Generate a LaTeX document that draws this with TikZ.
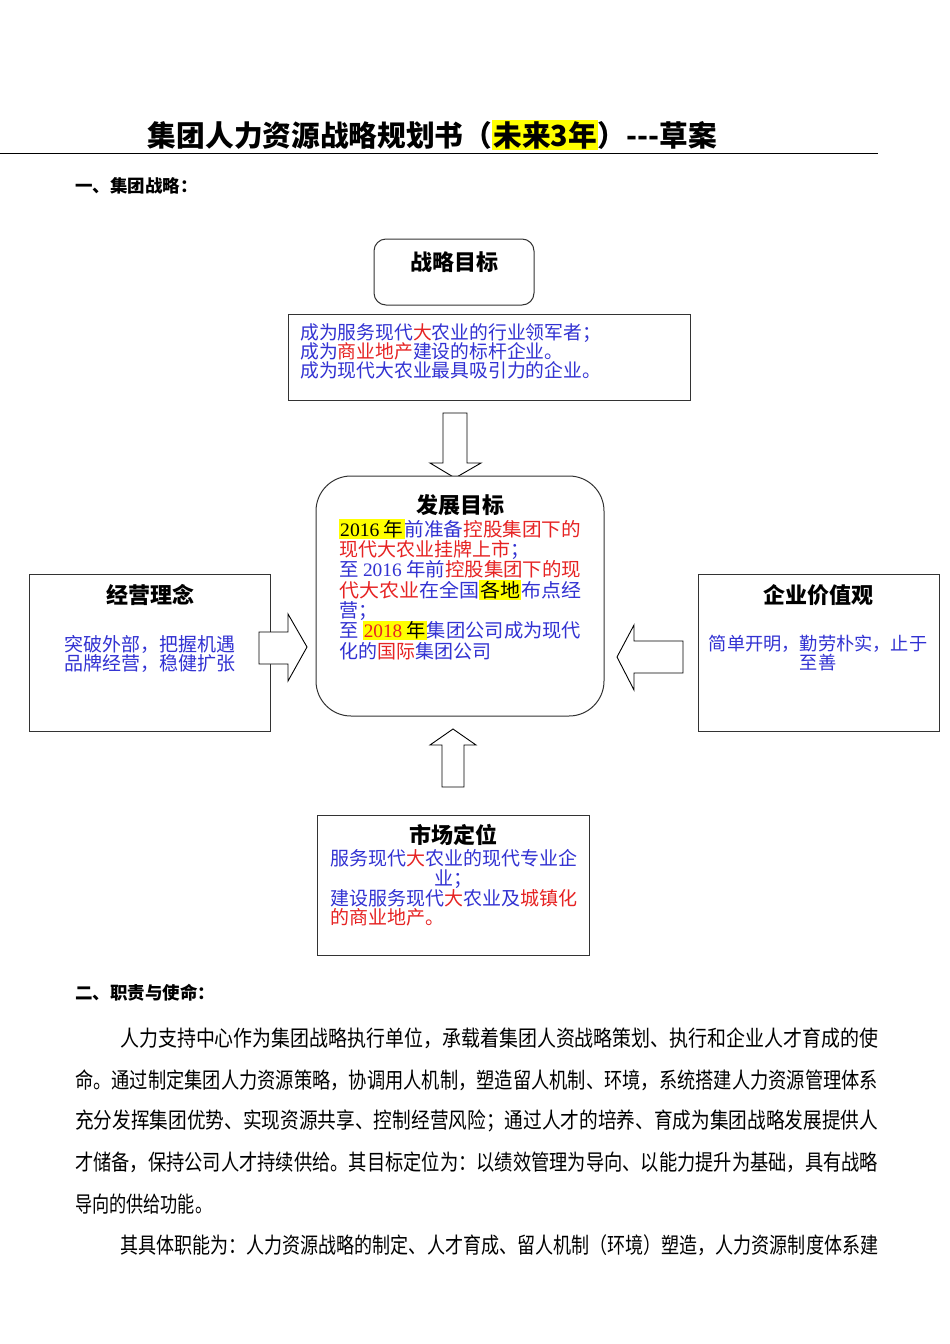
\documentclass[tikz,border=0pt]{standalone}
\usepackage{fontspec}
\usepackage{graphicx}
\setmainfont{Noto Sans CJK SC}
\newfontfamily\latin{Liberation Serif}
\definecolor{txtblue}{RGB}{50,50,210}
\definecolor{txtred}{RGB}{230,35,35}
\definecolor{hlyellow}{RGB}{255,255,0}
\def\hl#1{{\setlength{\fboxsep}{1pt}\colorbox{hlyellow}{#1}}}
\def\fitw#1#2{\resizebox{#1}{\height}{#2}}
\def\inblue#1{\textcolor{txtblue}{#1}}
\def\inred#1{\textcolor{txtred}{#1}}
\tikzset{
  boxline/.style={draw=black!80, line width=1pt},
  blockarrow/.style={draw=black, fill=white, line width=0.9pt, line join=miter},
  boxtitle/.style={inner sep=0pt, font=\fontsize{22}{22}\selectfont\bfseries},
  boxtext/.style={inner sep=0pt, align=left}
}

\begin{document}
\begin{tikzpicture}[x=1pt, y=-1pt]
			%%%%% PAGE %%%%%
			\useasboundingbox[fill=white] (0, 0) rectangle (950, 1344);
			
			\node[inner sep=0pt, font=\fontsize{29}{29}\selectfont\bfseries] (title) at (432.5, 135) {\fitw{569pt}{集团人力资源战略规划书（\hl{未来3年}）-{}-{}-草案}};
			\draw[line width=0.9pt] (0, 153) -- (878, 153);
			
			\node[inner sep=0pt, anchor=west, font=\fontsize{17.5}{17.5}\selectfont\bfseries] (sec1) at (75, 186) {一、集团战略：};
			
			%%%%% STRATEGY %%%%%
			\draw[boxline, rounded corners=12pt] (374, 239) rectangle (534, 305);
			\node[boxtitle] (goalhead) at (454, 262) {战略目标};
			
			\draw[boxline] (288, 314) rectangle (690, 400);
			\node[boxtext, anchor=north west, font=\fontsize{18.8}{19}\selectfont] (goaltext) at (300, 323.5) {%
				\inblue{成为服务现代}\inred{大}\inblue{农业的行业领军者；}\\
				\inblue{成为}\inred{商业地产}\inblue{建设的标杆企业。}\\
				\inblue{成为现代大农业最具吸引力的企业。}};
			
			\draw[blockarrow] (443, 413) -- (467, 413) -- (467, 463) -- (481, 463) -- (455, 478) -- (430, 463) -- (443, 463) -- cycle;
			
			\draw[boxline, fill=white, rounded corners=35pt] (316, 476) rectangle (604, 716);
			\node[boxtitle] (devhead) at (460, 505) {发展目标};
			\node[boxtext, anchor=north west, font=\fontsize{19}{20.3}\selectfont] (devtext) at (339, 519) {%
				\fitw{242pt}{\hl{{\latin 2016} 年}\inblue{前准备}\inred{控股集团下的}}\\
				\inred{现代大农业挂牌上市}\inblue{；}\\
				\fitw{242pt}{\inblue{至 {\latin 2016} 年前}\inred{控股集团下的现}}\\
				\fitw{242pt}{\inred{代大农业}\inblue{在全国}\hl{各地}\inblue{布点经}}\\
				\inblue{营；}\\
				\fitw{242pt}{\inblue{至 }\hl{\inred{\latin 2018} 年}\inblue{集团公司成为现代}}\\
				\inblue{化的}\inred{国际}\inblue{集团公司}};
			
			\draw[boxline] (29, 574) rectangle (270, 731);
			\node[boxtitle] (ideahead) at (150, 595) {经营理念};
			\node[boxtext, align=center, anchor=north, font=\fontsize{19}{19}\selectfont, text=txtblue] (ideatext) at (150, 635.5) {突破外部，把握机遇\\品牌经营，稳健扩张};
			\draw[blockarrow] (259, 632) -- (288, 632) -- (288, 614) -- (307, 647) -- (288, 681) -- (288, 664) -- (259, 664) -- cycle;
			
			\draw[boxline] (698, 574) rectangle (939, 731);
			\node[boxtitle] (valuehead) at (818, 595) {企业价值观};
			\node[boxtext, align=center, anchor=north, font=\fontsize{18.2}{19}\selectfont, text=txtblue] (valuetext) at (818, 634.8) {简单开明，勤劳朴实，止于\\至善};
			\draw[blockarrow] (683, 641) -- (634, 641) -- (634, 625) -- (617, 657) -- (634, 690) -- (634, 673) -- (683, 673) -- cycle;
			
			\draw[blockarrow] (442, 787) -- (442, 745) -- (430, 745) -- (453, 729) -- (476, 745) -- (464, 745) -- (464, 787) -- cycle;
			
			\draw[boxline] (317, 815) rectangle (589, 955);
			\node[boxtitle] (markethead) at (453, 835) {市场定位};
			\node[boxtext, anchor=north west, font=\fontsize{19}{19.7}\selectfont] (markettext) at (330, 849.4) {%
				\inblue{服务现代}\inred{大}\inblue{农业的现代专业企}\\
				\makebox[247pt][c]{\inblue{业；}}\\
				\inblue{建设服务现代}\inred{大}\inblue{农业及}\inred{城镇化}\\
				\inred{的商业地产。}};
			
			%%%%% DUTY %%%%%
			\node[inner sep=0pt, anchor=west, font=\fontsize{17.5}{17.5}\selectfont\bfseries] (sec2) at (75, 993) {二、职责与使命：};
			
			\node[inner sep=0pt, anchor=west, font=\fontsize{22}{22}\selectfont] (body1) at (120, 1038) {\fitw{758pt}{人力支持中心作为集团战略执行单位，承载着集团人资战略策划、执行和企业人才育成的使}};
			\node[inner sep=0pt, anchor=west, font=\fontsize{22}{22}\selectfont] (body2) at (75, 1080) {\fitw{803pt}{命。通过制定集团人力资源策略，协调用人机制，塑造留人机制、环境，系统搭建人力资源管理体系}};
			\node[inner sep=0pt, anchor=west, font=\fontsize{22}{22}\selectfont] (body3) at (75, 1121) {\fitw{803pt}{充分发挥集团优势、实现资源共享、控制经营风险；通过人才的培养、育成为集团战略发展提供人}};
			\node[inner sep=0pt, anchor=west, font=\fontsize{22}{22}\selectfont] (body4) at (75, 1162) {\fitw{803pt}{才储备，保持公司人才持续供给。其目标定位为：以绩效管理为导向、以能力提升为基础，具有战略}};
			\node[inner sep=0pt, anchor=west, font=\fontsize{22}{22}\selectfont] (body5) at (75, 1204) {\fitw{137pt}{导向的供给功能。}};
			\node[inner sep=0pt, anchor=west, font=\fontsize{22}{22}\selectfont] (body6) at (120, 1245) {\fitw{758pt}{其具体职能为：人力资源战略的制定、人才育成、留人机制（环境）塑造，人力资源制度体系建}};
			
			%%%%% END %%%%%
\end{tikzpicture}
\end{document}
